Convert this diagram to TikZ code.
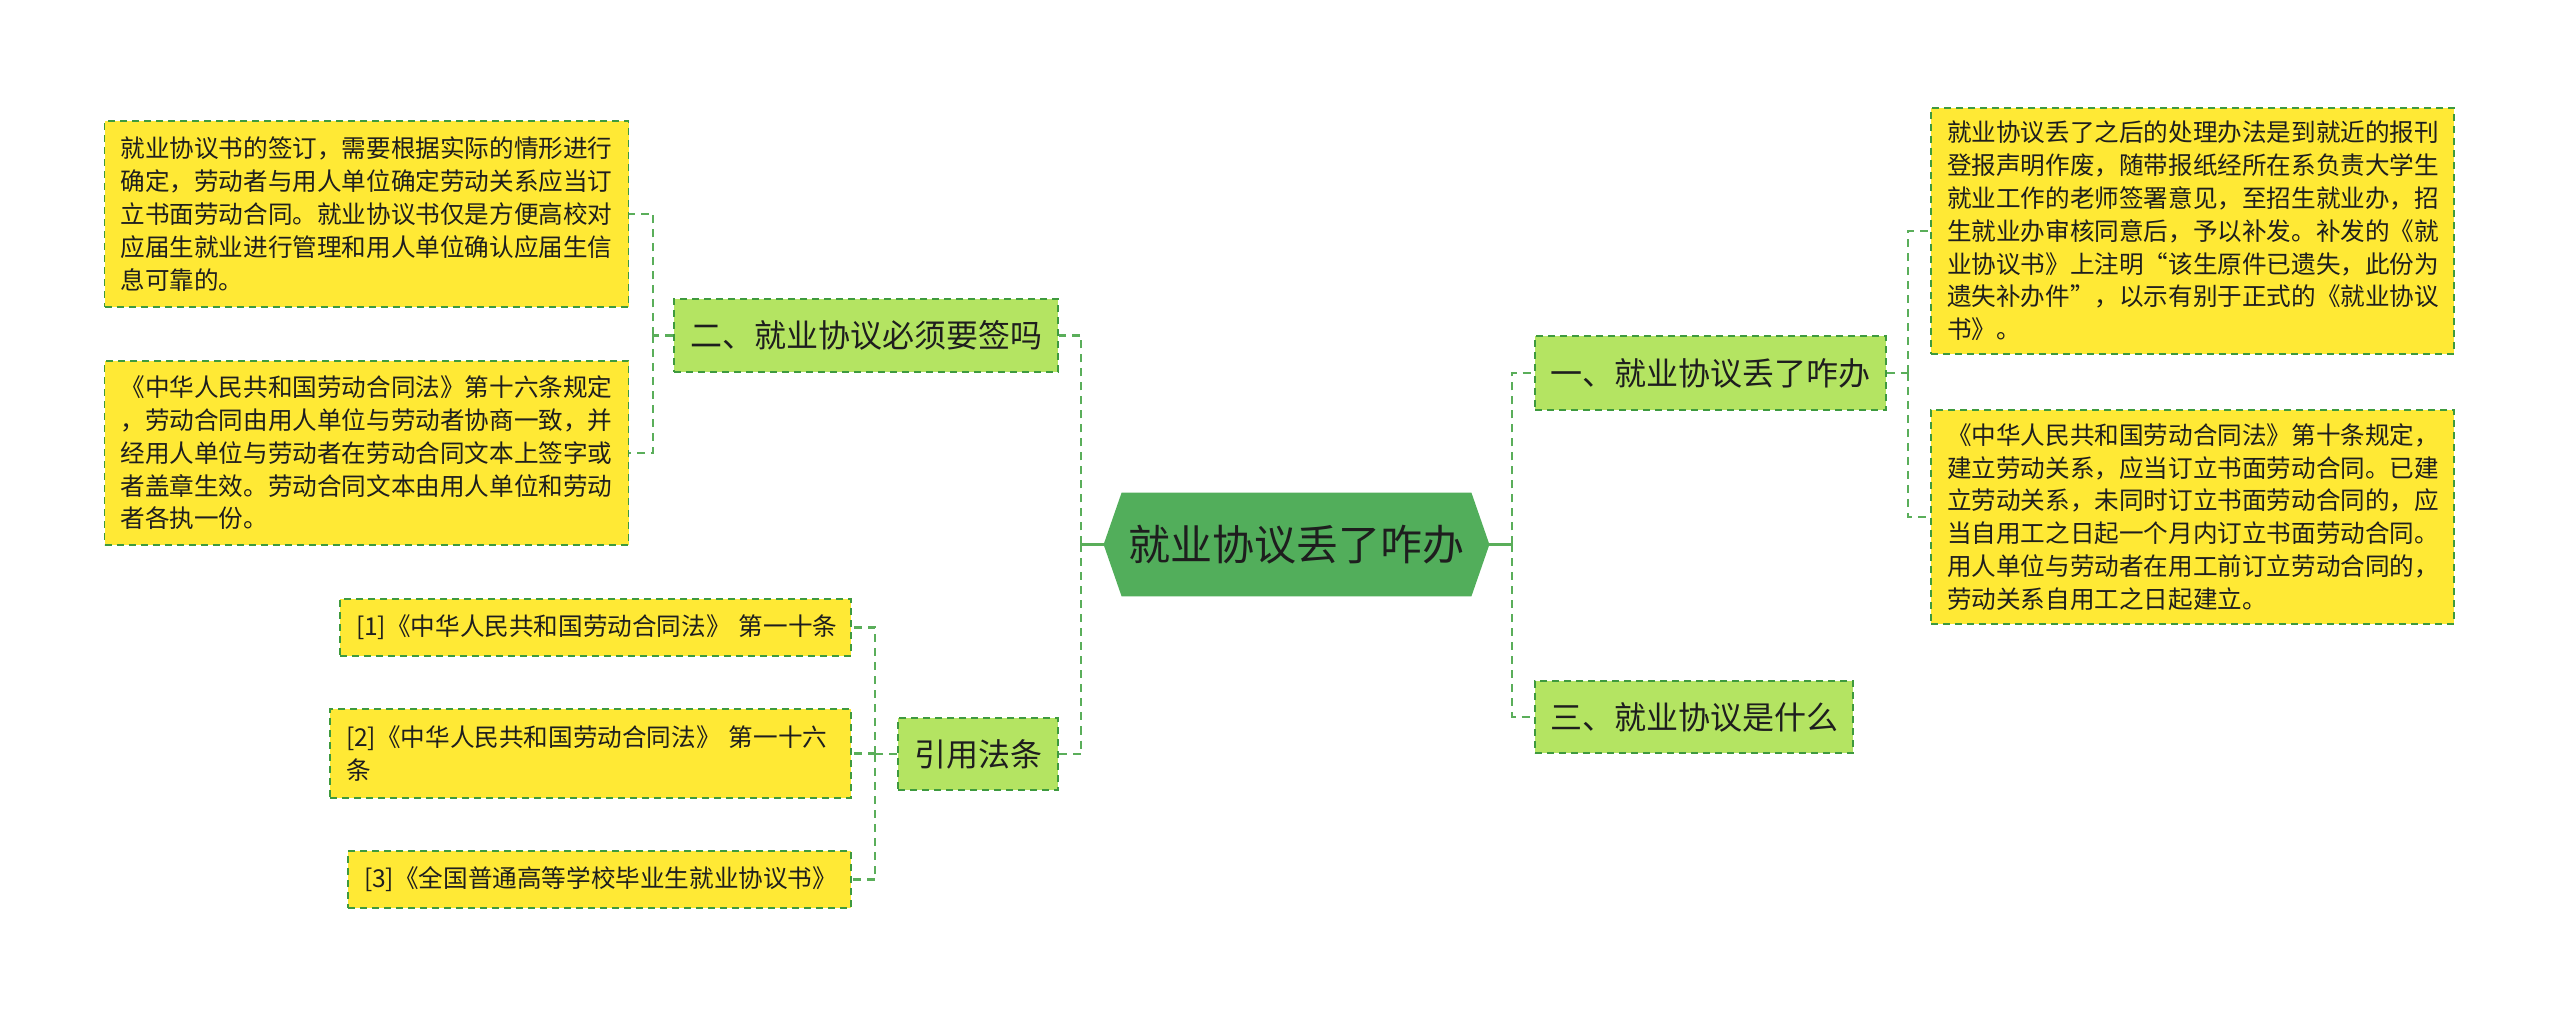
\documentclass[tikz,border=0pt]{standalone}
\usepackage{fontspec}
\setmainfont{Noto Sans CJK SC}
\usetikzlibrary{backgrounds}
\definecolor{leafyellow}{HTML}{FFE935}
\definecolor{topicgreen}{HTML}{B4E462}
\definecolor{centergreen}{HTML}{52AE5B}
\definecolor{bordergreen}{HTML}{3E9A3E}
\definecolor{linkgreen}{HTML}{5AAE5A}
\definecolor{textdark}{HTML}{1E1E1E}
\begin{document}
\begin{tikzpicture}[x=0.5pt,y=-0.5pt,
  leaf/.style={draw=bordergreen, fill=leafyellow, line width=0.8pt,
    dash pattern=on 3.5pt off 2.5pt, inner xsep=8pt, inner ysep=0pt,
    align=left, font=\fontsize{12.3pt}{16.4pt}\selectfont, text=textdark},
  topic/.style={draw=bordergreen, fill=topicgreen, line width=0.8pt,
    dash pattern=on 3.5pt off 2.5pt, inner sep=0pt,
    font=\fontsize{16pt}{20pt}\selectfont, text=textdark},
  link/.style={draw=linkgreen, line width=1.2pt, dash pattern=on 4pt off 3pt},
  stub/.style={draw=linkgreen, line width=1.4pt}
]
\useasboundingbox (0,0) rectangle (2560,1015);

% central node
\node[inner sep=0pt, minimum width=192.5pt, minimum height=51.5pt,
      font=\fontsize{21pt}{25pt}\selectfont, text=textdark] (c) at (1296.5,544.5) {就业协议丢了咋办};
\begin{scope}[on background layer]
\fill[centergreen] ([xshift=9pt]c.north west) -- ([xshift=-9pt]c.north east) -- (c.east)
  -- ([xshift=-9pt]c.south east) -- ([xshift=9pt]c.south west) -- (c.west) -- cycle;
\end{scope}

% main topics
\node[topic, minimum width=192pt, minimum height=36.5pt] (er) at (866,335.5) {二、就业协议必须要签吗};
\node[topic, minimum width=80pt, minimum height=36pt] (yy) at (978,754) {引用法条};
\node[topic, minimum width=175.5pt, minimum height=37pt] (yi) at (1710.5,373) {一、就业协议丢了咋办};
\node[topic, minimum width=159pt, minimum height=36pt] (san) at (1694,717) {三、就业协议是什么};

% leaves left
\node[leaf, text width=246pt, minimum height=93pt] (la) at (366.5,214) {就业协议书的签订，需要根据实际的情形进行\\确定，劳动者与用人单位确定劳动关系应当订\\立书面劳动合同。就业协议书仅是方便高校对\\应届生就业进行管理和用人单位确认应届生信\\息可靠的。};
\node[leaf, text width=246pt, minimum height=92pt] (lb) at (366.5,453) {《中华人民共和国劳动合同法》第十六条规定\\，劳动合同由用人单位与劳动者协商一致，并\\经用人单位与劳动者在劳动合同文本上签字或\\者盖章生效。劳动合同文本由用人单位和劳动\\者各执一份。};

% citations
\node[leaf, text width=239.5pt, minimum height=28.5pt] (r1) at (595.5,627.5) {[1]《中华人民共和国劳动合同法》~第一十条};
\node[leaf, text width=244.5pt, minimum height=44.5pt] (r2) at (590.5,753.5) {[2]《中华人民共和国劳动合同法》~第一十六\\条};
\node[leaf, text width=235.5pt, minimum height=28.5pt] (r3) at (599.5,879.5) {[3]《全国普通高等学校毕业生就业协议书》};

% leaves right
\node[leaf, text width=245.5pt, minimum height=123pt] (lc) at (2192.5,231) {就业协议丢了之后的处理办法是到就近的报刊\\登报声明作废，随带报纸经所在系负责大学生\\就业工作的老师签署意见，至招生就业办，招\\生就业办审核同意后，予以补发。补发的《就\\业协议书》上注明“该生原件已遗失，此份为\\遗失补办件”，以示有别于正式的《就业协议\\书》。};
\node[leaf, text width=245.5pt, minimum height=107pt] (ld) at (2192.5,517) {《中华人民共和国劳动合同法》第十条规定，\\建立劳动关系，应当订立书面劳动合同。已建\\立劳动关系，未同时订立书面劳动合同的，应\\当自用工之日起一个月内订立书面劳动合同。\\用人单位与劳动者在用工前订立劳动合同的，\\劳动关系自用工之日起建立。};

% junctions
\coordinate (jl) at (1081,544.5);
\coordinate (jr) at (1512,544.5);
\coordinate (j2) at (653,335.5);
\coordinate (j3) at (875,754);
\coordinate (j1) at (1908,373);

% connectors
\draw[stub] (c.west) -- (jl);
\draw[link] (jl) |- (er.east);
\draw[link] (jl) |- (yy.east);
\draw[stub] (c.east) -- (jr);
\draw[link] (jr) |- (yi.west);
\draw[link] (jr) |- (san.west);

\draw[link] (er.west) -- (j2);
\draw[link] (j2) |- (la.east);
\draw[link] (j2) |- (lb.east);

\draw[link] (yy.west) -- (j3);
\draw[link] (j3) |- (r1.east);
\draw[link] (j3) |- (r2.east);
\draw[link] (j3) |- (r3.east);

\draw[link] (yi.east) -- (j1);
\draw[link] (j1) |- (lc.west);
\draw[link] (j1) |- (ld.west);
\end{tikzpicture}
\end{document}
